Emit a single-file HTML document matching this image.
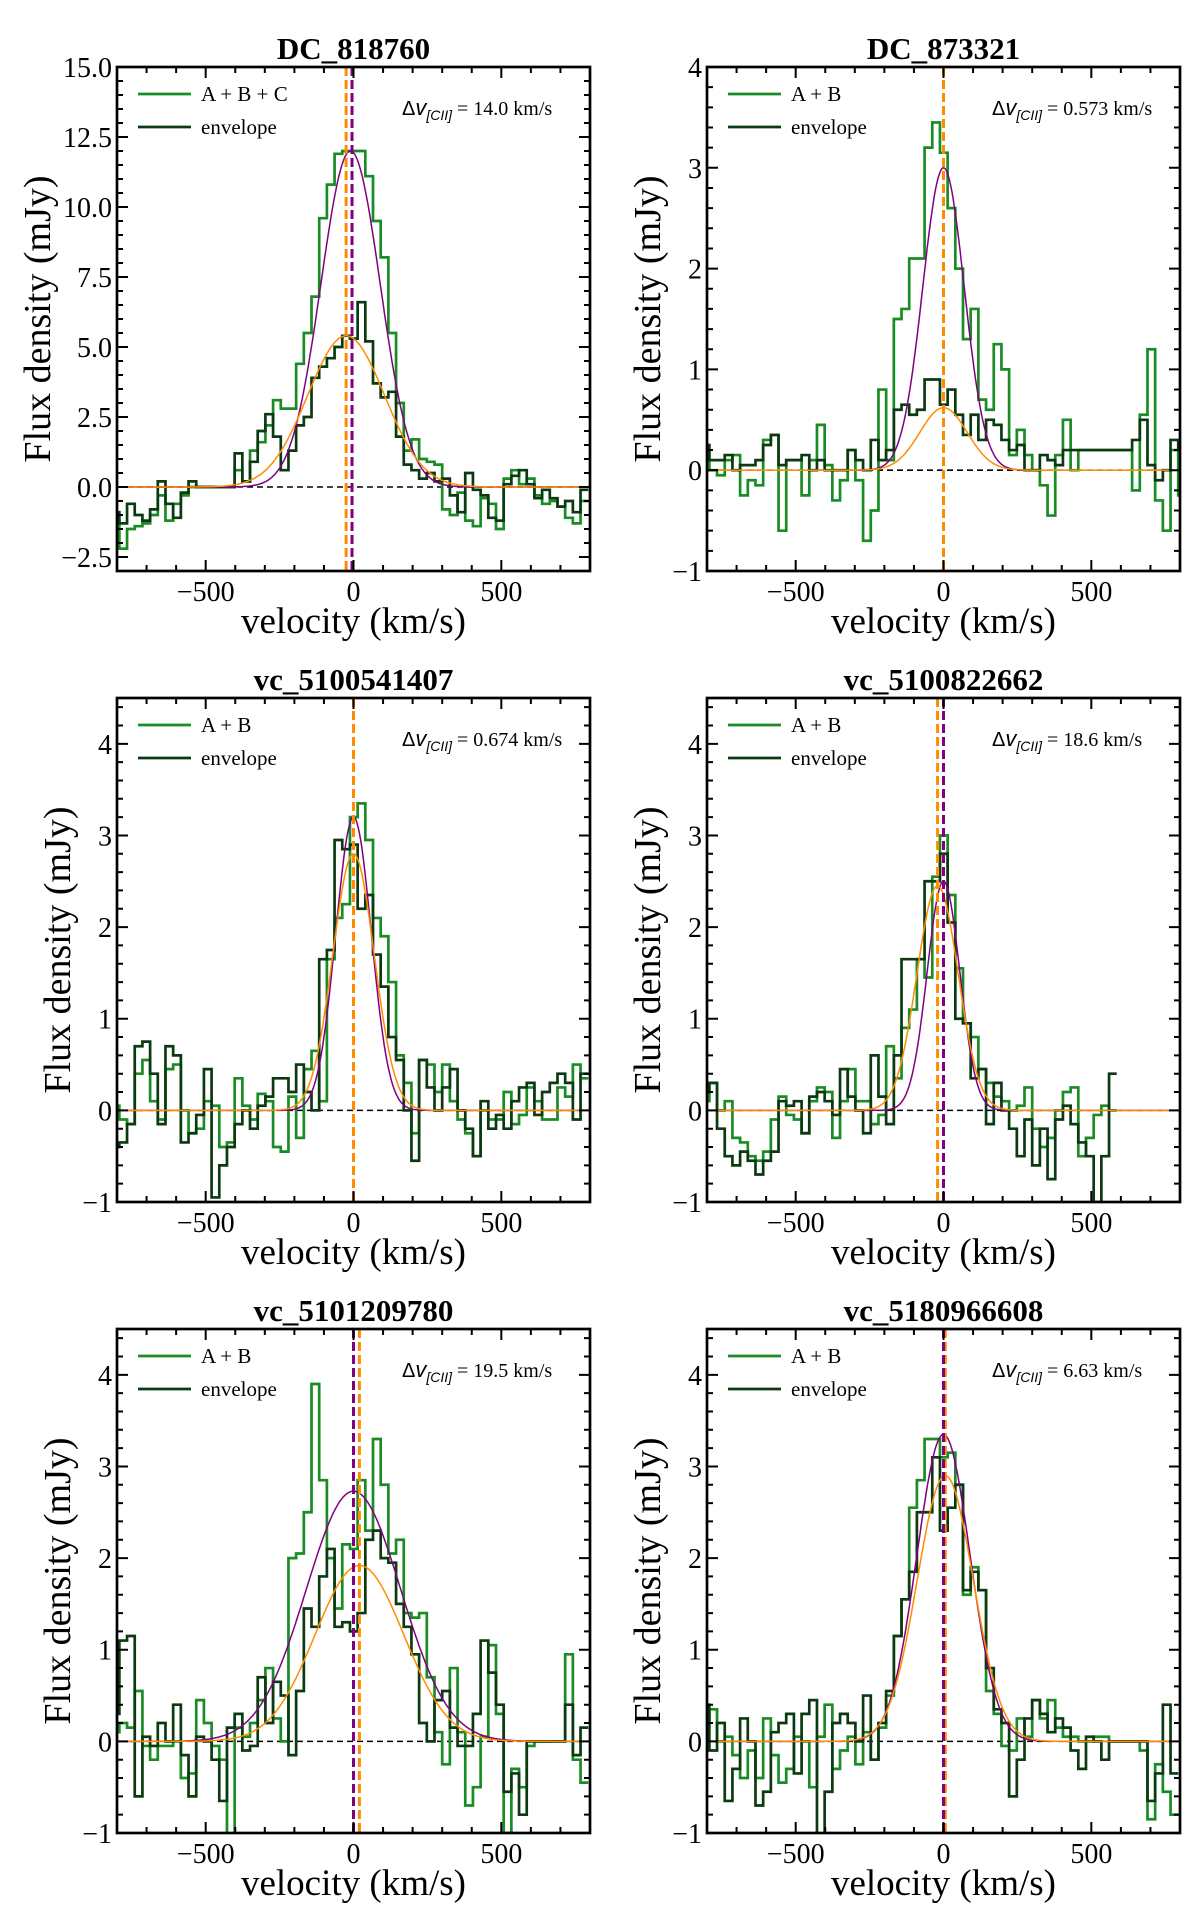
<!DOCTYPE html>
<html><head><meta charset="utf-8"><style>
body{margin:0;background:#fff}
svg{display:block}
text{font-family:"Liberation Serif",serif;fill:#000}
</style></head><body>
<svg id="fig" width="1200" height="1915" viewBox="0 0 1200 1915" xmlns="http://www.w3.org/2000/svg"></svg>
<script>
// ---- data ----
const binStart = -818;
const binWidth = 26;
const xTicks = [-500, 0, 500];
const titles = ["DC_818760","DC_873321","vc_5100541407","vc_5100822662","vc_5101209780","vc_5180966608"];
const legendA = ["A + B + C","A + B","A + B","A + B","A + B","A + B"];
const deltaV = ["14.0","0.573","0.674","18.6","19.5","6.63"];
const yMin = [-3,-1,-1,-1,-1,-1];
const yMax = [15,4,4.5,4.5,4.5,4.5];
const yMajor = [2.5,1,1,1,1,1];
const yMinor = [0.5,0.2,0.2,0.2,0.2,0.2];
const yTickFmt = [1,0,0,0,0,0];
// fits: [amplitude, center, sigma]
const purpleFit = [[12,-10,100],[3.0,0,70],[3.2,0,60],[2.5,0,55],[2.73,0,160],[3.35,0,90]];
const orangeFit = [[5.4,-25,130],[0.62,0,80],[2.8,0,70],[2.45,-20,70],[1.92,20,150],[2.9,6,95]];
const orangeLine = [-25,0,0,-20,20,6];
const purpleLine = [-5,null,null,0,0,0];
const green1 = [-1.2,-2.2,-1.5,-1.4,-1.3,-1.0,-0.3,-1.2,-0.6,-0.3,0,0,0,0,0,0,0.6,0.2,1.3,1.6,2.2,3.1,2.8,2.8,4.4,5.5,6.8,9.6,10.8,11.9,12,12,12,11.1,9.5,8.2,5.5,3.0,1.3,1.7,1.0,0.9,0.8,-0.8,-1.0,-0.2,-1.2,-1.4,-0.4,-0.6,-1.5,0.3,0.6,0.1,0.3,-0.3,-0.6,-0.5,-0.7,-1.1,-1.3,-0.5];
const env1 = [-0.9,-1.3,-0.6,-1.0,-1.2,-0.8,0.2,-0.6,-1.1,-0.2,0.2,0,0,0,0,0,1.2,0.2,0.9,2.0,2.6,1.8,0.6,1.3,2.2,2.5,3.9,4.3,4.6,5.0,5.4,5.3,6.6,5.2,3.7,3.2,3.4,1.8,0.8,0.6,0.3,0.5,0.2,0.3,-0.3,-0.9,0.5,-0.1,-0.3,-1.1,-1.2,0.1,0.4,0.6,0.1,-0.4,-0.1,-0.4,-0.7,-0.5,-0.9,-0.1];
const green2 = [0.2,0,-0.05,0.1,0.15,-0.25,-0.1,-0.15,0.3,0.35,-0.6,0.1,0.1,-0.25,0.1,0.45,0.05,-0.3,-0.1,0.2,-0.1,-0.7,-0.4,0.8,0.1,1.5,1.6,2.1,2.1,3.2,3.45,3.15,2.6,2.0,1.3,1.6,0.7,0.6,1.25,1.0,0.15,0.4,0.15,0.0,-0.15,-0.45,0.15,0.5,0.0,0.2,0.2,0.2,0.2,0.2,0.2,0.2,-0.2,0.55,1.2,-0.3,-0.6,0.2,-0.25];
const env2 = [0.25,0.1,0.1,0.15,0.0,0.05,0.05,0.1,0.25,0.35,0.05,0.1,0.1,0.15,0.0,0.1,0.0,0.0,0.0,0.2,0.1,0.0,0.3,0.1,0.2,0.6,0.65,0.55,0.6,0.9,0.9,0.65,0.8,0.55,0.35,0.55,0.3,0.5,0.45,0.3,0.2,0.25,0.0,0.0,0.15,0.1,0.05,0.2,0.2,0.2,0.2,0.2,0.2,0.2,0.2,0.2,0.3,0.5,0.05,-0.1,0.0,0.3,0.2];
const green3 = [0.05,-0.1,-0.15,0.4,0.55,0.1,-0.1,0.45,0.5,0.0,-0.25,-0.2,0.1,0.05,-0.4,-0.35,0.35,0.05,-0.1,0.18,0.1,-0.4,-0.45,0.15,-0.3,0.45,0.65,0.1,1.65,2.1,2.25,3.2,3.35,2.95,2.1,1.9,1.4,0.6,0.3,-0.25,0.55,0.5,0.2,0.5,0.1,-0.1,-0.25,-0.5,0.0,-0.1,-0.1,0.2,-0.15,-0.05,0.25,0.1,-0.1,-0.1,0.25,0.15,0.5,0.35];
const env3 = [-0.4,-0.35,-0.15,0.7,0.75,0.4,-0.15,0.7,0.6,-0.35,-0.25,-0.05,0.45,-0.95,-0.6,-0.4,-0.15,0.0,-0.2,0.05,0.15,0.35,0.35,0.2,0.5,0.2,0.0,1.65,1.75,2.95,2.85,2.9,2.2,2.35,1.7,1.35,0.8,0.55,0.0,-0.55,0.55,0.25,0.0,0.25,0.45,0.0,-0.2,-0.5,0.1,-0.2,-0.05,-0.2,0.1,0.25,0.3,-0.05,0.2,0.3,0.4,0.3,-0.1,0.4];
const green4 = [0.1,0.3,0.0,0.1,-0.3,-0.35,-0.5,-0.55,-0.45,-0.1,0.15,-0.05,-0.1,-0.25,0.1,0.25,0.2,-0.3,0.1,0.45,0.1,0.1,-0.15,-0.05,0.7,0.35,0.9,1.1,1.65,1.45,2.55,3.0,2.35,1.55,0.95,0.8,0.45,0.3,0.15,0.1,0.0,0.05,0.25,-0.2,-0.4,-0.3,0.0,0.2,0.25,-0.5,-0.3,-0.05,0.05,0.0];
const env4 = [0.2,0.3,-0.2,-0.5,-0.6,-0.45,-0.55,-0.7,-0.55,-0.45,0.1,0.05,0.1,-0.25,0.15,0.2,0.1,-0.05,0.45,0.15,0.0,-0.25,0.6,0.15,-0.15,0.6,1.65,1.65,1.65,2.5,2.5,2.8,2.05,1.0,0.95,0.35,0.45,-0.15,0.3,0.0,-0.2,-0.5,-0.1,-0.6,-0.2,-0.75,-0.1,0.05,-0.15,-0.35,-0.5,-1.0,-0.5,0.4];
const green5 = [0.1,0.2,0.15,0.55,-0.05,-0.2,-0.05,-0.05,0.0,-0.4,-0.35,0.45,0.2,-0.05,-0.2,-1.2,0.15,0.05,0.2,0.45,0.8,0.25,0.0,2.0,2.05,2.5,3.9,2.85,2.0,1.45,2.15,2.1,2.85,2.3,3.3,2.8,2.05,2.2,1.4,1.35,1.4,0.7,0.1,-0.25,0.8,0.1,-0.7,-0.5,0.05,1.05,0.3,-1.0,-0.3,-0.5,-0.05,0,0,0,0,0.95,-0.2,-0.45];
const env5 = [0.3,1.1,1.15,-0.6,0.05,-0.05,0.2,0.0,0.4,-0.15,-0.6,0.05,0.0,-0.2,-0.65,0.15,0.3,-0.1,-0.05,0.7,0.2,0.65,0.5,-0.15,0.55,1.45,1.25,1.8,2.1,1.25,1.3,1.2,1.4,2.2,2.3,2.0,1.95,1.5,1.25,0.95,0.2,0.0,0.45,0.55,0.15,-0.05,-0.05,0.3,1.1,0.75,0.4,-0.55,-0.35,-0.8,0.0,0,0,0,0,0.4,-0.15,0.15];
const green6 = [0.2,0.35,0.0,0.05,-0.15,-0.4,-0.1,-0.4,0.25,-0.15,-0.45,-0.3,0.05,0.0,-0.5,0.05,0.4,-0.3,-0.1,0.05,-0.25,0.1,-0.2,0.15,0.5,1.15,1.55,2.55,2.85,3.3,3.3,3.1,3.15,2.8,1.6,1.9,1.65,0.55,0.3,-0.05,-0.1,0.25,0.05,0.45,0.25,0.45,0.15,0.05,0.05,0.0,0.0,0.05,0.05,0.0,0.0,0.0,0.0,-0.1,-0.85,-0.25,-0.55,-0.8];
const env6 = [0.4,-0.1,0.2,-0.65,-0.3,0.25,0.0,-0.7,-0.55,0.1,0.2,0.3,-0.35,0.3,0.45,-1.2,-0.55,0.2,0.3,0.2,0.0,0.5,-0.2,0.2,0.55,1.15,1.55,1.85,2.5,2.5,3.1,2.3,2.55,2.8,1.65,1.85,1.65,0.8,0.35,0.2,-0.6,-0.2,0.25,0.45,0.3,0.1,0.25,0.15,-0.1,-0.3,0.05,0.0,-0.2,0.0,0.0,0.0,0.0,0.0,-0.65,-0.35,0.4,-0.35];
const greens = [green1,green2,green3,green4,green5,green6];
const envs = [env1,env2,env3,env4,env5,env6];

// ---- layout ----
const NS = "http://www.w3.org/2000/svg";
const svg = document.getElementById("fig");
const colLeft = [117, 707];
const rowTop = [67, 698, 1329];
const W = 473, H = 504;
const X0 = -800, X1 = 800;
function mk(tag, attrs, parent){
  const e = document.createElementNS(NS, tag);
  for (const k in attrs) e.setAttribute(k, attrs[k]);
  (parent||svg).appendChild(e);
  return e;
}
function gauss(p, v){ return p[0]*Math.exp(-0.5*Math.pow((v-p[1])/p[2],2)); }

for (let p = 0; p < 6; p++){
  const L = colLeft[p%2], T = rowTop[Math.floor(p/2)], R = L+W, B = T+H;
  const sx = v => L + (v - X0)/(X1 - X0)*W;
  const sy = y => B - (y - yMin[p])/(yMax[p]-yMin[p])*H;
  const g = mk("g", {});
  
  
  const cid = "clip"+p;
  const cp = mk("clipPath", {id:cid}, g);
  mk("rect", {x:L, y:T, width:W, height:H}, cp);
  const plot = mk("g", {"clip-path":"url(#"+cid+")"}, g);

  const zl = mk("line", {x1:L, x2:R, y1:sy(0), y2:sy(0), stroke:"#000", "stroke-width":1.6, "stroke-dasharray":"6,4"}, plot);
  
  

  function step(arr, color, name, w){
    let d = "";
    for (let i = 0; i < arr.length; i++){
      const a = sx(binStart + i*binWidth), b = sx(binStart + (i+1)*binWidth), y = sy(arr[i]);
      d += (i===0 ? "M"+a+","+y : "V"+y) + "H"+b;
    }
    const e = mk("path", {d:d, fill:"none", stroke:color, "stroke-width":w, "stroke-linejoin":"miter"}, plot);
    
    
  }
  step(greens[p], "#1a8c25", "spectrum-sum", 2.7);
  step(envs[p], "#0b3a10", "spectrum-envelope", 2.7);

  function fit(par, color, name){
    let d = "";
    for (let v = X0; v <= X1; v += 4){ d += (v===X0?"M":"L") + sx(v).toFixed(1) + "," + sy(gauss(par, v)).toFixed(1); }
    const e = mk("path", {d:d, fill:"none", stroke:color, "stroke-width":1.5}, plot);
    
    
  }
  fit(purpleFit[p], "#800080", "gaussian-fit-sum");
  fit(orangeFit[p], "#ff8c00", "gaussian-fit-envelope");

  const ol = mk("line", {x1:sx(orangeLine[p]), x2:sx(orangeLine[p]), y1:T, y2:B, stroke:"#ff8c00", "stroke-width":3, "stroke-dasharray":"9,4"}, plot);
  
  
  if (purpleLine[p] !== null){
    const pl = mk("line", {x1:sx(purpleLine[p]), x2:sx(purpleLine[p]), y1:T, y2:B, stroke:"#800080", "stroke-width":3, "stroke-dasharray":"9,4"}, plot);
    
    
  }

  const fr = mk("rect", {x:L, y:T, width:W, height:H, fill:"none", stroke:"#000", "stroke-width":2.7}, g);
  
  

  let td = "";
  for (let v = X0; v <= X1; v += 100){
    const x = sx(v), len = (v % 500 === 0) ? 11 : 6;
    td += "M"+x+","+B+"v"+(-len)+"M"+x+","+T+"v"+len;
  }
  const ymj = yMajor[p], ymn = yMinor[p];
  const nMin = Math.ceil(yMin[p]/ymn - 1e-9), nMax = Math.floor(yMax[p]/ymn + 1e-9);
  for (let n = nMin; n <= nMax; n++){
    const v = n*ymn, y = sy(v);
    const major = Math.abs(v/ymj - Math.round(v/ymj)) < 1e-6;
    const len = major ? 11 : 6;
    td += "M"+L+","+y+"h"+len+"M"+R+","+y+"h"+(-len);
  }
  const tk = mk("path", {d:td, stroke:"#000", "stroke-width":2, fill:"none"}, g);
  
  

  for (const v of xTicks){
    const t = mk("text", {x:sx(v), y:B+30, "font-size":28, "text-anchor":"middle"}, g);
    t.textContent = v < 0 ? "\u2212" + Math.abs(v) : String(v);
    
    
  }
  for (let v = Math.ceil(yMin[p]/ymj)*ymj; v <= yMax[p]+1e-9; v += ymj){
    const t = mk("text", {x:L-5, y:sy(v)+10, "font-size":28, "text-anchor":"end"}, g);
    const s = v.toFixed(yTickFmt[p]);
    t.textContent = v < 0 ? "\u2212" + s.slice(1) : s;
    
    
  }

  const xl = mk("text", {x:(L+R)/2, y:B+62, "font-size":37, "text-anchor":"middle"}, g);
  xl.textContent = "velocity (km/s)";
  
  
  const ylx = (p===0) ? L-80 : L-60, ylyc = (T+B)/2;
  const yl = mk("text", {x:ylx+13, y:ylyc, "font-size":38, "text-anchor":"middle", transform:"rotate(-90 "+(ylx+13)+" "+ylyc+")"}, g);
  yl.textContent = "Flux density (mJy)";
  
  

  const tt = mk("text", {x:(L+R)/2, y:T-8, "font-size":31, "font-weight":"bold", "text-anchor":"middle"}, g);
  tt.textContent = titles[p];
  
  

  const lg = mk("g", {}, g);
  
  
  mk("line", {x1:L+21, x2:L+74, y1:T+27, y2:T+27, stroke:"#1a8c25", "stroke-width":2.7}, lg);
  mk("line", {x1:L+21, x2:L+74, y1:T+60, y2:T+60, stroke:"#0b3a10", "stroke-width":2.7}, lg);
  const l1 = mk("text", {x:L+84, y:T+34, "font-size":21}, lg);
  l1.textContent = legendA[p];
  
  
  const l2 = mk("text", {x:L+84, y:T+67, "font-size":21}, lg);
  l2.textContent = "envelope";
  
  

  const an = mk("text", {x:L+285, y:T+48, "font-size":20}, g);
  
  
  an.innerHTML = '<tspan font-family="Liberation Sans, sans-serif">\u0394</tspan><tspan font-style="italic" font-size="22" font-family="Liberation Sans, sans-serif">v</tspan><tspan font-size="14" dy="5" font-style="italic" font-family="Liberation Sans, sans-serif">[CII]</tspan><tspan dy="-5"> = ' + deltaV[p] + ' km/s</tspan>';
}
</script>
</body></html>
